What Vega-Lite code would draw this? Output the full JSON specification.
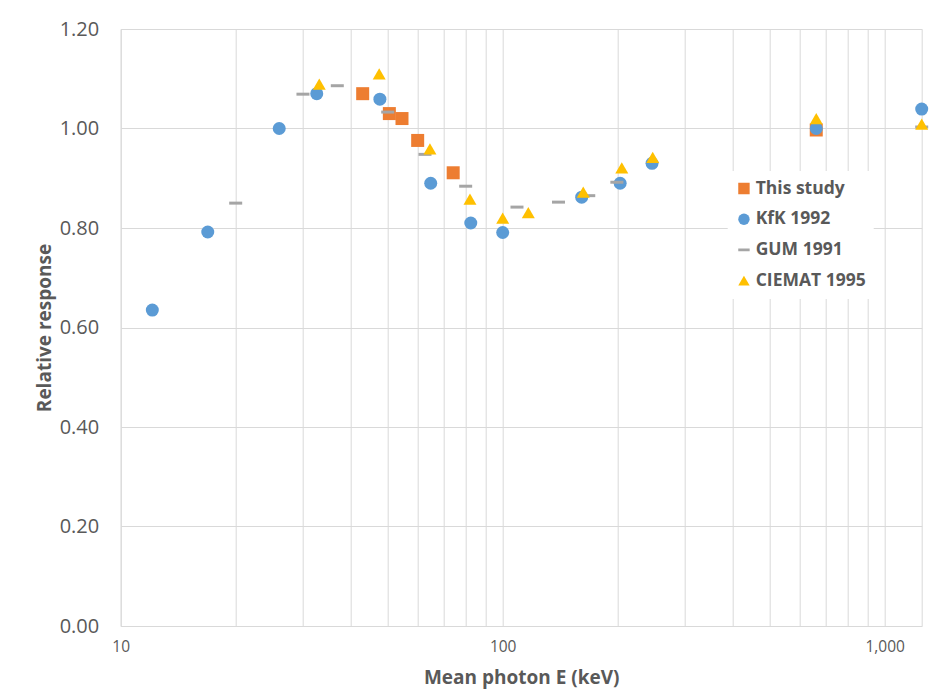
{
  "$schema": "https://vega.github.io/schema/vega-lite/v6.json",
  "width": 801,
  "height": 597,
  "autosize": {"type": "none"},
  "padding": {"left": 120.7, "top": 29, "right": 20.3, "bottom": 74},
  "background": "white",
  "config": {
    "font": "Open Sans",
    "view": {"stroke": "#d9d9d9", "strokeWidth": 1}
  },
  "data": {
    "values": [
      {"series": "This study", "energy": 43.0, "response": 1.07},
      {"series": "This study", "energy": 50.5, "response": 1.03},
      {"series": "This study", "energy": 54.5, "response": 1.02},
      {"series": "This study", "energy": 59.9, "response": 0.976},
      {"series": "This study", "energy": 74.2, "response": 0.911},
      {"series": "This study", "energy": 662, "response": 0.997},
      {"series": "KfK 1992", "energy": 12.1, "response": 0.635},
      {"series": "KfK 1992", "energy": 16.9, "response": 0.792},
      {"series": "KfK 1992", "energy": 26.0, "response": 1.0},
      {"series": "KfK 1992", "energy": 32.6, "response": 1.07},
      {"series": "KfK 1992", "energy": 47.7, "response": 1.059},
      {"series": "KfK 1992", "energy": 64.8, "response": 0.89},
      {"series": "KfK 1992", "energy": 82.5, "response": 0.81},
      {"series": "KfK 1992", "energy": 100, "response": 0.791},
      {"series": "KfK 1992", "energy": 161, "response": 0.862},
      {"series": "KfK 1992", "energy": 203, "response": 0.89},
      {"series": "KfK 1992", "energy": 246, "response": 0.93},
      {"series": "KfK 1992", "energy": 662, "response": 1.0},
      {"series": "KfK 1992", "energy": 1250, "response": 1.039},
      {"series": "GUM 1991", "energy": 20, "response": 0.85},
      {"series": "GUM 1991", "energy": 30, "response": 1.069},
      {"series": "GUM 1991", "energy": 36.9, "response": 1.086},
      {"series": "GUM 1991", "energy": 50, "response": 1.033},
      {"series": "GUM 1991", "energy": 62.6, "response": 0.948},
      {"series": "GUM 1991", "energy": 80, "response": 0.884},
      {"series": "GUM 1991", "energy": 109, "response": 0.842},
      {"series": "GUM 1991", "energy": 140, "response": 0.852},
      {"series": "GUM 1991", "energy": 168, "response": 0.865},
      {"series": "GUM 1991", "energy": 199, "response": 0.892},
      {"series": "GUM 1991", "energy": 1250, "response": 1.003},
      {"series": "CIEMAT 1995", "energy": 33.1, "response": 1.089},
      {"series": "CIEMAT 1995", "energy": 47.5, "response": 1.11},
      {"series": "CIEMAT 1995", "energy": 64.5, "response": 0.959},
      {"series": "CIEMAT 1995", "energy": 82.1, "response": 0.858},
      {"series": "CIEMAT 1995", "energy": 100, "response": 0.82},
      {"series": "CIEMAT 1995", "energy": 116.7, "response": 0.831},
      {"series": "CIEMAT 1995", "energy": 162.5, "response": 0.872},
      {"series": "CIEMAT 1995", "energy": 205, "response": 0.921},
      {"series": "CIEMAT 1995", "energy": 247, "response": 0.942},
      {"series": "CIEMAT 1995", "energy": 662, "response": 1.02},
      {"series": "CIEMAT 1995", "energy": 1250, "response": 1.009}
    ]
  },
  "mark": {"type": "point", "filled": true, "size": 169, "opacity": 1},
  "encoding": {
    "x": {
      "field": "energy",
      "type": "quantitative",
      "scale": {"type": "log", "domain": [10, 1250], "nice": false},
      "axis": {
        "values": [10, 20, 30, 40, 50, 60, 70, 80, 90, 100, 200, 300, 400, 500, 600, 700, 800, 900, 1000],
        "labelExpr": "datum.value == 10 ? '10' : datum.value == 100 ? '100' : datum.value == 1000 ? '1,000' : ''",
        "labelFlush": false,
        "labelOverlap": false,
        "labelFontSize": 15.5,
        "labelColor": "#595959",
        "labelPadding": 13,
        "ticks": false,
        "domain": false,
        "gridColor": "#d9d9d9",
        "gridWidth": 1,
        "title": "Mean photon E (keV)",
        "titleFontSize": 19,
        "titleFontWeight": "bold",
        "titleColor": "#595959",
        "titlePadding": 14
      }
    },
    "y": {
      "field": "response",
      "type": "quantitative",
      "scale": {"domain": [0, 1.2], "nice": false, "zero": true},
      "axis": {
        "values": [0, 0.2, 0.4, 0.6, 0.8, 1.0, 1.2],
        "format": ".2f",
        "labelFontSize": 20,
        "labelColor": "#595959",
        "labelPadding": 22,
        "labelOverlap": false,
        "labelFlush": false,
        "ticks": false,
        "domain": false,
        "gridColor": "#d9d9d9",
        "gridWidth": 1,
        "title": "Relative response",
        "titleFontSize": 19,
        "titleFontWeight": "bold",
        "titleColor": "#595959",
        "titlePadding": 5
      }
    },
    "color": {
      "field": "series",
      "type": "nominal",
      "sort": null,
      "scale": {
        "domain": ["This study", "KfK 1992", "GUM 1991", "CIEMAT 1995"],
        "range": ["#ED7D31", "#5B9BD5", "#A5A5A5", "#FFC000"]
      },
      "legend": {
        "title": null,
        "orient": "none",
        "legendX": 607,
        "legendY": 142,
        "padding": 7.5,
        "fillColor": "white",
        "symbolSize": 130,
        "symbolOpacity": 1,
        "labelFontSize": 17.5,
        "labelFontWeight": "bold",
        "labelColor": "#595959",
        "labelOffset": 3,
        "clipHeight": 20,
        "rowPadding": 10.7
      }
    },
    "shape": {
      "field": "series",
      "type": "nominal",
      "sort": null,
      "scale": {
        "domain": ["This study", "KfK 1992", "GUM 1991", "CIEMAT 1995"],
        "range": ["square", "circle", "M-1,-0.23H1V0.23H-1Z", "triangle-up"]
      },
      "legend": {
        "title": null,
        "orient": "none",
        "legendX": 607,
        "legendY": 142,
        "padding": 7.5,
        "fillColor": "white",
        "symbolSize": 130,
        "symbolOpacity": 1,
        "labelFontSize": 17.5,
        "labelFontWeight": "bold",
        "labelColor": "#595959",
        "labelOffset": 3,
        "clipHeight": 20,
        "rowPadding": 10.7
      }
    }
  }
}
